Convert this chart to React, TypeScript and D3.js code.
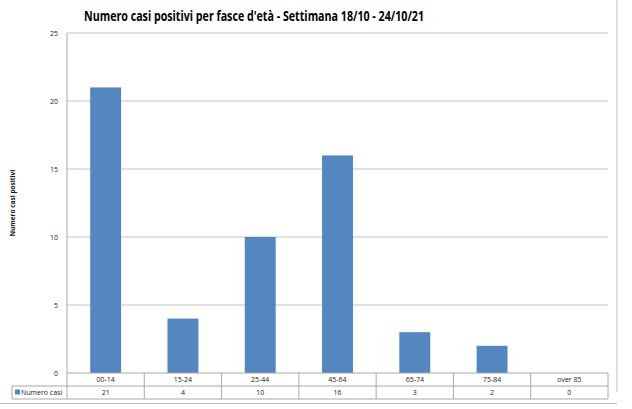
import React from "react";
import * as d3 from "d3";

const categories = ["00-14", "15-24", "25-44", "45-64", "65-74", "75-84", "over 85"];
const values = [21, 4, 10, 16, 3, 2, 0];
const yTicks = [0, 5, 10, 15, 20, 25];
const seriesName = "Numero casi";
const title = "Numero casi positivi per fasce d'età - Settimana 18/10 - 24/10/21";
const yLabel = "Numero casi positivi";

const W = 632;
const H = 409;
const left = 67;
const right = 608;
const top = 33;
const bottom = 373;
const rowH = 13;
const font = "'Open Sans', 'Liberation Sans', sans-serif";
const grid = "#c4c4c4";
const barColor = "#5486c0";

export default function App() {
  const x = d3.scaleBand<string>().domain(categories).range([left, right]).paddingInner(0).paddingOuter(0);
  const y = d3.scaleLinear().domain([0, 25]).range([bottom, top]);
  const bw = x.bandwidth() * 0.4;

  return (
    <svg width={W} height={H} style={{ position: "absolute", left: 0, top: 0 }}>
      <rect x={0} y={0} width={W} height={H} fill="#fff" />
      {/* frame */}
      <line x1={617} y1={0} x2={617} y2={392} stroke="#bdbdbd" strokeWidth={1} />
      <line x1={0} y1={403.5} x2={617} y2={403.5} stroke="#bdbdbd" strokeWidth={1} />
      <text x={254} y={21} textAnchor="middle" fontFamily={font} fontWeight="bold" fontSize={14.5} textLength={340} lengthAdjust="spacingAndGlyphs" fill="#000">
        {title}
      </text>
      {/* gridlines */}
      {yTicks.map((t) => (
        <g key={t}>
          {t > 0 && <line x1={left} x2={right} y1={y(t)} y2={y(t)} stroke={grid} strokeWidth={1} />}
          <text x={58} y={y(t) + 2.5} textAnchor="end" fontFamily={font} fontSize={7} fill="#222">{t}</text>
        </g>
      ))}
      <text transform={`translate(15,203) rotate(-90)`} textAnchor="middle" fontFamily={font} fontWeight="bold" fontSize={6.5} fill="#111">
        {yLabel}
      </text>
      {/* bars */}
      {categories.map((c, i) => (
        values[i] > 0 ? (
          <rect key={c} x={(x(c) as number) + (x.bandwidth() - bw) / 2} y={y(values[i])} width={bw} height={bottom - y(values[i])} fill={barColor} />
        ) : null
      ))}
      {/* axes */}
      <line x1={left} x2={left} y1={top} y2={bottom + 2 * rowH} stroke="#a8a8a8" strokeWidth={1} />
      <line x1={left} x2={right} y1={bottom} y2={bottom} stroke="#a8a8a8" strokeWidth={1} />
      {/* data table */}
      <line x1={12} x2={right} y1={bottom + rowH} y2={bottom + rowH} stroke="#a8a8a8" strokeWidth={1} />
      <line x1={12} x2={right} y1={bottom + 2 * rowH} y2={bottom + 2 * rowH} stroke="#a8a8a8" strokeWidth={1} />
      <line x1={12} x2={12} y1={bottom + rowH} y2={bottom + 2 * rowH} stroke="#a8a8a8" strokeWidth={1} />
      {categories.map((c) => (
        <line key={c} x1={(x(c) as number) + x.bandwidth()} x2={(x(c) as number) + x.bandwidth()} y1={bottom} y2={bottom + 2 * rowH} stroke="#a8a8a8" strokeWidth={1} />
      ))}
      {categories.map((c, i) => (
        <g key={c}>
          <text x={(x(c) as number) + x.bandwidth() / 2} y={bottom + 9} textAnchor="middle" fontFamily={font} fontSize={7} fill="#222">{c}</text>
          <text x={(x(c) as number) + x.bandwidth() / 2} y={bottom + rowH + 9} textAnchor="middle" fontFamily={font} fontSize={7} fill="#222">{values[i]}</text>
        </g>
      ))}
      <rect x={15} y={bottom + rowH + 3.5} width={5} height={5} fill={barColor} />
      <text x={21} y={bottom + rowH + 9} fontFamily={font} fontSize={7} fill="#222">{seriesName}</text>
    </svg>
  );
}
